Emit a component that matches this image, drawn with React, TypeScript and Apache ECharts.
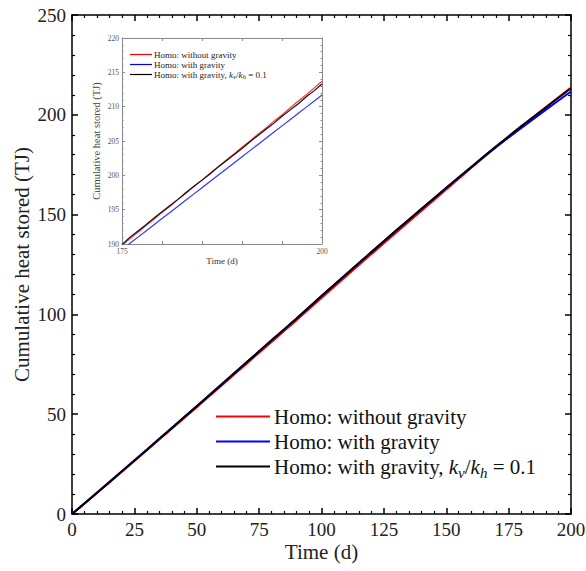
import React, { useEffect, useRef } from "react";
import * as echarts from "echarts";

const NAME_RED = "Homo: without gravity";
const NAME_BLUE = "Homo: with gravity";
const NAME_BLACK = "Homo: with gravity, kv/kh = 0.1";

// Main plot (0–200 d)
const mainTime = [0, 10, 20, 30, 40, 50, 60, 70, 80, 90, 100, 110, 120, 130, 140, 150, 160, 170, 180, 190, 200];
const mainRed = [0, 10.5, 21.2, 31.9, 42.7, 53.5, 64.4, 75.3, 86.2, 97.1, 108.2, 119.2, 130.2, 141.0, 151.8, 162.6, 173.4, 184.0, 194.1, 203.9, 213.7];
const mainBlue = [0, 10.6, 21.4, 32.2, 43.1, 54.0, 65.0, 76.0, 87.0, 98.0, 109.2, 120.2, 131.2, 142.1, 152.8, 163.3, 173.7, 183.8, 193.3, 202.6, 211.7];
const mainBlack = [0, 10.6, 21.4, 32.2, 43.1, 54.0, 65.0, 76.0, 87.0, 98.0, 109.2, 120.2, 131.2, 142.1, 152.8, 163.4, 173.9, 184.2, 194.2, 203.8, 213.3];

// Inset (175–200 d)
const insetTime = [175, 176, 177, 178, 179, 180, 181, 182, 183, 184, 185, 186, 187, 188, 189, 190, 191, 192, 193, 194, 195, 196, 197, 198, 199, 200];
const insetRed = [189.8, 190.8, 191.7, 192.7, 193.6, 194.6, 195.5, 196.5, 197.4, 198.4, 199.3, 200.3, 201.2, 202.2, 203.1, 204.1, 205.0, 206.0, 206.9, 207.9, 208.8, 209.8, 210.8, 211.7, 212.7, 213.7];
const insetBlue = [189.2, 190.1, 191.0, 191.9, 192.8, 193.7, 194.6, 195.5, 196.4, 197.3, 198.2, 199.1, 200.0, 200.9, 201.8, 202.7, 203.6, 204.5, 205.4, 206.3, 207.2, 208.1, 209.0, 209.9, 210.8, 211.7];
const insetBlack = [189.9, 191.0, 191.9, 192.8, 193.8, 194.7, 195.6, 196.5, 197.5, 198.4, 199.3, 200.2, 201.2, 202.1, 203.0, 203.9, 204.9, 205.8, 206.7, 207.6, 208.6, 209.5, 210.4, 211.4, 212.3, 213.3];

const mainXTicks = { min: 0, max: 200, interval: 25 };
const mainYTicks = { min: 0, max: 250, interval: 50 };
const insetXTicks = { min: 175, max: 200, interval: 5 };
const insetYTicks = { min: 190, max: 220, interval: 5 };

const FONT = "'Liberation Serif', 'Times New Roman', serif";

function pairs(xs: number[], ys: number[]) {
  return xs.map((x, i) => [x, ys[i]]);
}

const legendFormatter = (name: string) =>
  name === NAME_BLACK ? "Homo: with gravity, {i|k}{s|v}/{i|k}{s|h} = 0.1" : name;

export default function App() {
  const ref = useRef<HTMLDivElement>(null);
  useEffect(() => {
    if (!ref.current) return;
    const chart = echarts.init(ref.current, null, { renderer: "svg" });
    const mainAxisLine = { show: true, onZero: false, lineStyle: { color: "#000", width: 1.5 } };
    const insetAxisLine = { show: true, onZero: false, lineStyle: { color: "#888", width: 1 } };
    const mainLabel = { fontSize: 19, color: "#222", fontFamily: FONT };
    const insetLabel = { fontSize: 7.5, color: "#555", fontFamily: FONT };
    const mainTick = { show: true, inside: true, length: 6, lineStyle: { color: "#000", width: 1.5 } };
    const mainMinor = { show: true, splitNumber: 5, length: 3, lineStyle: { color: "#000", width: 1.2 } };
    const insetTick = { show: true, inside: true, length: 3, lineStyle: { color: "#888" } };
    const insetMinor = { show: true, splitNumber: 5, length: 1.5, lineStyle: { color: "#888" } };
    const option: any = {
      animation: false,
      backgroundColor: "#fff",
      grid: [
        { left: 72, right: 15, top: 15, bottom: 57, containLabel: false, outerBoundsMode: "none" },
        { left: 122, top: 38, width: 200, height: 206, containLabel: false, outerBoundsMode: "none" },
      ],
      legend: [
        {
          left: 211,
          top: 401,
          orient: "vertical",
          icon: "rect",
          itemWidth: 54,
          itemHeight: 2,
          itemGap: 4,
          data: [NAME_RED, NAME_BLUE, NAME_BLACK],
          formatter: legendFormatter,
          textStyle: {
            fontSize: 21,
            color: "#111",
            fontFamily: FONT,
            padding: [0, 0, 0, -1],
            rich: {
              i: { fontSize: 21, fontStyle: "italic", fontFamily: FONT, color: "#111" },
              s: { fontSize: 15, fontStyle: "italic", fontFamily: FONT, color: "#111", padding: [12, 0, 0, 0] },
            },
          },
        },
        {
          left: 125,
          top: 45,
          orient: "vertical",
          icon: "rect",
          itemWidth: 22,
          itemHeight: 1.2,
          itemGap: 1,
          data: [NAME_RED, NAME_BLUE, NAME_BLACK],
          formatter: legendFormatter,
          textStyle: {
            fontSize: 9,
            color: "#222",
            fontFamily: FONT,
            padding: [0, 0, 0, -3],
            rich: {
              i: { fontSize: 9, fontStyle: "italic", fontFamily: FONT, color: "#222" },
              s: { fontSize: 7, fontStyle: "italic", fontFamily: FONT, color: "#222", padding: [5, 0, 0, 0] },
            },
          },
        },
      ],
      xAxis: [
        {
          type: "value", gridIndex: 0, ...mainXTicks, position: "bottom",
          name: "Time (d)", nameLocation: "middle", nameGap: 27, nameMoveOverlap: false,
          nameTextStyle: { fontSize: 21, color: "#222", fontFamily: FONT },
          axisLine: mainAxisLine, axisTick: mainTick, minorTick: mainMinor,
          axisLabel: { ...mainLabel, margin: 6 },
          splitLine: { show: false },
        },
        {
          type: "value", gridIndex: 0, ...mainXTicks, position: "top",
          axisLine: mainAxisLine, axisTick: mainTick, minorTick: mainMinor,
          axisLabel: { show: false },
          splitLine: { show: false },
        },
        {
          type: "value", gridIndex: 1, ...insetXTicks, position: "bottom",
          name: "Time (d)", nameLocation: "middle", nameGap: 12, nameMoveOverlap: false,
          nameTextStyle: { fontSize: 9, color: "#333", fontFamily: FONT },
          axisLine: insetAxisLine, axisTick: insetTick,
          axisLabel: { ...insetLabel, margin: 3, formatter: (v: number) => (v === 175 || v === 200 ? String(v) : "") },
          splitLine: { show: false },
        },
        {
          type: "value", gridIndex: 1, ...insetXTicks, position: "top",
          axisLine: insetAxisLine, axisTick: insetTick,
          axisLabel: { show: false },
          splitLine: { show: false },
        },
      ],
      yAxis: [
        {
          type: "value", gridIndex: 0, ...mainYTicks, position: "left",
          name: "Cumulative heat stored (TJ)", nameLocation: "middle", nameGap: 40, nameMoveOverlap: false,
          nameTextStyle: { fontSize: 21, color: "#222", fontFamily: FONT },
          axisLine: mainAxisLine, axisTick: mainTick, minorTick: mainMinor,
          axisLabel: { ...mainLabel, margin: 6 },
          splitLine: { show: false },
        },
        {
          type: "value", gridIndex: 0, ...mainYTicks, position: "right",
          axisLine: mainAxisLine, axisTick: mainTick, minorTick: mainMinor,
          axisLabel: { show: false },
          splitLine: { show: false },
        },
        {
          type: "value", gridIndex: 1, ...insetYTicks, position: "left",
          name: "Cumulative heat stored (TJ)", nameLocation: "middle", nameGap: 20, nameMoveOverlap: false,
          nameTextStyle: { fontSize: 10.5, color: "#444", fontFamily: FONT },
          axisLine: insetAxisLine, axisTick: insetTick, minorTick: insetMinor,
          axisLabel: { ...insetLabel, margin: 3 },
          splitLine: { show: false },
        },
        {
          type: "value", gridIndex: 1, ...insetYTicks, position: "right",
          axisLine: insetAxisLine, axisTick: insetTick, minorTick: insetMinor,
          axisLabel: { show: false },
          splitLine: { show: false },
        },
      ],
      series: [
        { name: NAME_RED, type: "line", xAxisIndex: 0, yAxisIndex: 0, data: pairs(mainTime, mainRed), smooth: 0.3, showSymbol: false, symbol: "none", color: "#ff0000", lineStyle: { width: 2, color: "#ff0000" } },
        { name: NAME_BLUE, type: "line", xAxisIndex: 0, yAxisIndex: 0, data: pairs(mainTime, mainBlue), smooth: 0.3, showSymbol: false, symbol: "none", color: "#0000ff", lineStyle: { width: 2, color: "#0000ff" } },
        { name: NAME_BLACK, type: "line", xAxisIndex: 0, yAxisIndex: 0, data: pairs(mainTime, mainBlack), smooth: 0.3, showSymbol: false, symbol: "none", color: "#000000", lineStyle: { width: 2, color: "#000000" } },
        { name: NAME_RED, type: "line", xAxisIndex: 2, yAxisIndex: 2, data: pairs(insetTime, insetRed), showSymbol: false, symbol: "none", color: "#ff0000", lineStyle: { width: 1.2, color: "#ff3535" } },
        { name: NAME_BLUE, type: "line", xAxisIndex: 2, yAxisIndex: 2, data: pairs(insetTime, insetBlue), showSymbol: false, symbol: "none", color: "#0000ff", lineStyle: { width: 1.2, color: "#3535ff" } },
        { name: NAME_BLACK, type: "line", xAxisIndex: 2, yAxisIndex: 2, data: pairs(insetTime, insetBlack), showSymbol: false, symbol: "none", color: "#000000", lineStyle: { width: 1.2, color: "#111" } },
      ],
    };
    chart.setOption(option);
    return () => chart.dispose();
  }, []);
  return <div ref={ref} style={{ width: 586, height: 571, position: "absolute", left: 0, top: 0 }} />;
}
